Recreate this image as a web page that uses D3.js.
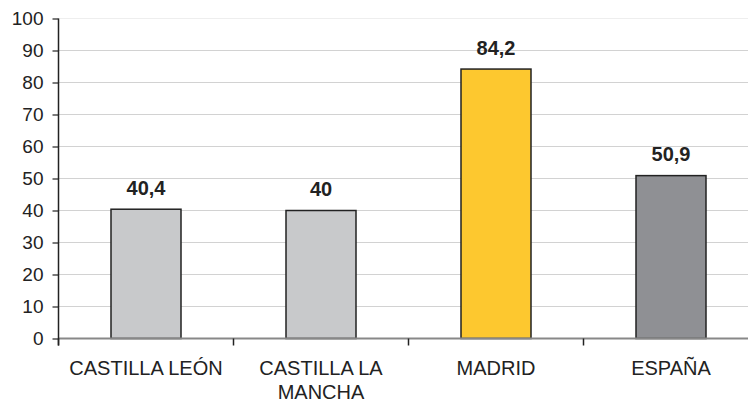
<!DOCTYPE html>
<html><head><meta charset="utf-8">
<script src="https://cdn.jsdelivr.net/npm/d3@7/dist/d3.min.js"></script>
<style>body{margin:0;background:#fff}svg{display:block}text{font-family:Arial,"Liberation Sans",sans-serif;fill:#222}</style>
</head><body><svg id="c" width="748" height="405"></svg>
<script>
const categories = [["CASTILLA LEÓN"], ["CASTILLA LA", "MANCHA"], ["MADRID"], ["ESPAÑA"]];
const values = [40.4, 40, 84.2, 50.9];
const labels = ["40,4", "40", "84,2", "50,9"];
const colors = ["#c8c9cb", "#c8c9cb", "#fdc82f", "#8f9094"];
const yTicks = [0, 10, 20, 30, 40, 50, 60, 70, 80, 90, 100];

const svg = d3.select("#c");
const x = d3.scaleBand().domain(d3.range(categories.length)).range([58.5, 758.5]).paddingInner(0.6).paddingOuter(0.3);
const y = d3.scaleLinear().domain([0, 100]).range([338.5, 18.5]);

// gridlines
svg.append("g").selectAll("line").data(yTicks.filter(t => t > 0)).join("line")
  .attr("x1", 58.5).attr("x2", 748).attr("y1", d => y(d)).attr("y2", d => y(d))
  .attr("stroke", d => d === 100 ? "#eeeeee" : "#d2d2d2").attr("stroke-width", 1);

// bars
svg.append("g").selectAll("rect").data(values).join("rect")
  .attr("x", (d, i) => x(i)).attr("width", x.bandwidth())
  .attr("y", d => y(d)).attr("height", d => y(0) - y(d))
  .attr("fill", (d, i) => colors[i]).attr("stroke", "#222").attr("stroke-width", 1.5);

// value labels
svg.append("g").selectAll("text").data(values).join("text")
  .attr("x", (d, i) => x(i) + x.bandwidth() / 2).attr("y", d => y(d) - 14.5)
  .attr("text-anchor", "middle").attr("font-weight", "bold").attr("font-size", 20)
  .text((d, i) => labels[i]);

// x axis line
svg.append("line").attr("x1", 58.5).attr("x2", 748).attr("y1", y(0)).attr("y2", y(0))
  .attr("stroke", "#888").attr("stroke-width", 2);
// x ticks at band boundaries
const bounds = d3.range(categories.length + 1).map(i => 58.5 + i * 175);
svg.append("g").selectAll("line").data(bounds).join("line")
  .attr("x1", d => d).attr("x2", d => d).attr("y1", y(0)).attr("y2", y(0) + 7)
  .attr("stroke", "#222").attr("stroke-width", 1.5);
// category labels
const cl = svg.append("g").selectAll("text").data(categories).join("text")
  .attr("text-anchor", "middle").attr("font-size", 20)
  .attr("transform", (d, i) => `translate(${x(i) + x.bandwidth() / 2},375)`);
cl.selectAll("tspan").data(d => d).join("tspan")
  .attr("x", 0).attr("dy", (d, j) => j === 0 ? 0 : 24).text(d => d);

// y axis
const yAxis = d3.axisLeft(y).tickValues(yTicks).tickSize(6).tickPadding(9).tickFormat(d3.format("d"));
const ya = svg.append("g").attr("transform", "translate(58.5,0)").call(yAxis);
ya.select(".domain").attr("stroke", "#222").attr("stroke-width", 1.5).attr("d", `M0,${y(100)}V${y(0) + 7}`);
ya.selectAll(".tick line").attr("stroke", "#222").attr("stroke-width", 1.2);
ya.selectAll(".tick text").attr("font-size", 19).attr("font-family", "Arial, 'Liberation Sans', sans-serif").attr("fill", "#222");
</script></body></html>
